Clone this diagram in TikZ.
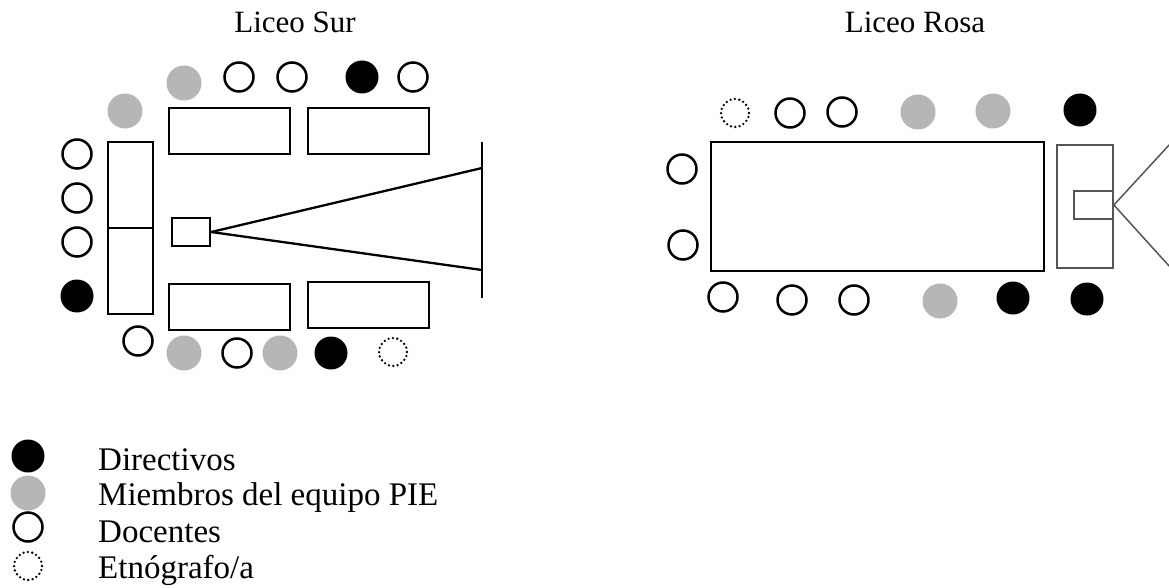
\documentclass[tikz,border=0pt]{standalone}
\usepackage{fontspec}
\setmainfont{Liberation Serif}
\definecolor{piegray}{RGB}{182,182,182}
\definecolor{linegray}{RGB}{85,85,85}
\tikzset{
  dir/.style={circle,fill=black,minimum size=33pt,inner sep=0pt},
  pie/.style={circle,fill=piegray,minimum size=35pt,inner sep=0pt},
  doc/.style={circle,draw=black,line width=2.5pt,minimum size=29pt,inner sep=0pt},
  etno/.style={circle,draw=black,line width=2.6pt,dash pattern=on 0pt off 4.4pt,line cap=round,minimum size=28pt,inner sep=0pt},
  tablebox/.style={draw=black,line width=2.5pt,inner sep=0pt},
  thinbox/.style={draw=linegray,line width=1.7pt,inner sep=0pt},
  title/.style={font=\fontsize{31}{36}\selectfont,anchor=base},
  legtext/.style={font=\fontsize{33}{38}\selectfont,anchor=base west,inner sep=0pt},
}
\begin{document}
\begin{tikzpicture}[x=1pt,y=-1pt]
\useasboundingbox (0,0) rectangle (1169,588);
% ---------- Liceo Sur ----------
\node[title] (tSur) at (295,33) {Liceo Sur};
\draw[tablebox] (169,108) rectangle (290,154);
\draw[tablebox] (308,108) rectangle (429,154);
\draw[tablebox] (169,284) rectangle (290,330);
\draw[tablebox] (308,282) rectangle (429,328);
\draw[tablebox] (108,142) rectangle (153,314);
\coordinate (midL) at (108,228);
\coordinate (midR) at (153,228);
\draw[line width=2.4pt] (midL) -- (midR);
\node[tablebox,minimum width=38pt,minimum height=28pt] (projS) at (191,232) {};
\coordinate (scrTop) at (482,142);
\coordinate (scrBot) at (482,298);
\coordinate (scrA) at (482,168);
\coordinate (scrB) at (482,270);
\draw[line width=2.5pt] (scrTop) -- (scrBot);
\draw[line width=2.3pt] (projS.east) -- (scrA);
\draw[line width=2.3pt] (projS.east) -- (scrB);
% seats Liceo Sur
\node[pie] (s1) at (184,83) {};
\node[doc] (s2) at (239,77) {};
\node[doc] (s3) at (292,77) {};
\node[dir] (s4) at (362,77) {};
\node[doc] (s5) at (413,77) {};
\node[pie] (s6) at (125,111) {};
\node[doc] (s7) at (77,154) {};
\node[doc] (s8) at (77,198) {};
\node[doc] (s9) at (77,242) {};
\node[dir] (s10) at (77,296) {};
\node[doc] (s11) at (138,341) {};
\node[pie] (s12) at (184,353) {};
\node[doc] (s13) at (237,353) {};
\node[pie] (s14) at (280,353) {};
\node[dir] (s15) at (331,353) {};
\node[etno] (s16) at (393,352) {};
% ---------- Liceo Rosa ----------
\node[title] (tRosa) at (915,33) {Liceo Rosa};
\draw[tablebox] (711,142) rectangle (1044,271);
\draw[thinbox] (1057,145) rectangle (1113,268);
\node[thinbox,minimum width=39pt,minimum height=28pt] (projR) at (1093.5,205) {};
\coordinate (conA) at (1170,144);
\coordinate (conB) at (1170,267);
\draw[linegray,line width=1.5pt] (projR.east) -- (conA);
\draw[linegray,line width=1.5pt] (projR.east) -- (conB);
% seats Liceo Rosa
\node[etno] (r1) at (735,113) {};
\node[doc] (r2) at (790,113) {};
\node[doc] (r3) at (842,112) {};
\node[pie] (r4) at (918,112) {};
\node[pie] (r5) at (993,111) {};
\node[dir] (r6) at (1080,110) {};
\node[doc] (r7) at (682,169) {};
\node[doc] (r8) at (683,245) {};
\node[doc] (r9) at (723,297) {};
\node[doc] (r10) at (792,300) {};
\node[doc] (r11) at (854,300) {};
\node[pie] (r12) at (940,301) {};
\node[dir] (r13) at (1013,298) {};
\node[dir] (r14) at (1087,299) {};
% ---------- Legend ----------
\node[dir] (l1) at (28,456) {};
\node[pie] (l2) at (28,493) {};
\node[doc] (l3) at (28,527) {};
\node[etno] (l4) at (28,566) {};
\node[legtext] (lt1) at (98,470) {Directivos};
\node[legtext] (lt2) at (98,505) {Miembros del equipo PIE};
\node[legtext] (lt3) at (98,542) {Docentes};
\node[legtext] (lt4) at (98,578) {Etnógrafo/a};
\end{tikzpicture}
\end{document}
